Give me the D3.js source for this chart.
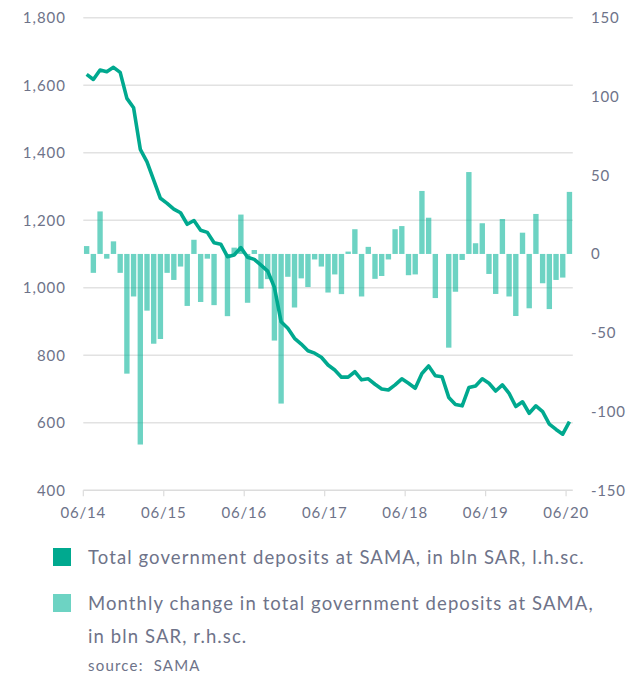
<!DOCTYPE html>
<html><head><meta charset="utf-8">
<script src="https://cdn.jsdelivr.net/npm/d3@7"></script>
<style>
html,body{margin:0;padding:0;background:#fff;}
svg text{font-family:Lato,"Open Sans",sans-serif;fill:#6e7389;white-space:pre;}
</style></head>
<body><svg id="c" width="643" height="676"></svg>
<script>
// ---- data ----
const totals = [1632,1617,1645,1640,1653,1638,1561,1533,1410,1373,1319,1265,1250,1233,1222,1188,1199,1170,1164,1133,1129,1092,1097,1119,1090,1084,1067,1049,1001,899,880,850,833,813,806,794,771,756,735,735,751,727,730,714,700,697,712,730,717,702,746,768,739,736,675,654,650,704,709,730,717,694,712,687,648,662,628,650,633,596,580,566,603];
const changes = [5,-12,27,-3,8,-12,-76,-27,-121,-36,-57,-54,-12,-16.5,-8,-33,9,-30.5,-3,-32.5,0,-39.5,4,25,-31,2.5,-22,-16,-55,-95,-14.5,-34,-15.5,-21,-3.5,-8,-24.5,-13,-25.5,1.5,15.7,-27,4.5,-15.8,-14,-3.5,15.7,17.7,-13.5,-13,40,23,-28,0,-59.5,-24,-3.8,52,6.8,19.5,-12.7,-25.4,22.2,-27,-39.4,13.5,-34.5,25.4,-18.6,-35,-16.5,-15,39.4];
const xTickLabels = ["06/14","06/15","06/16","06/17","06/18","06/19","06/20"];
const leftTicks = [400,600,800,1000,1200,1400,1600,1800];
const rightTicks = [-150,-100,-50,0,50,100,150];
const legendLabels = ["Total government deposits at SAMA, in bln SAR, l.h.sc.",
  "Monthly change in total government deposits at SAMA,", "in bln SAR, r.h.sc."];
const sourceText = "source:  SAMA";

// categories: months 06/14 .. 06/20
const months = d3.range(totals.length).map(i => d3.timeFormat("%m/%y")(new Date(2014, 5 + i, 1)));

const svg = d3.select("#c");
const L = 83.3, R = 572.8, T = 17.7, B = 490.2;

const x = d3.scaleBand().domain(months).range([L, R]).paddingInner(0.2).paddingOuter(0.1);
const yL = d3.scaleLinear().domain([400, 1800]).range([B, T]);
const yR = d3.scaleLinear().domain([-150, 150]).range([B, T]);
const step = x.step();
const tickX = m => x(m) - step * 0.1;

// grid
svg.append("g").selectAll("line").data(leftTicks.filter(v => v > 400)).join("line")
  .attr("x1", L).attr("x2", R).attr("y1", d => yL(d)).attr("y2", d => yL(d))
  .attr("stroke", "#e2e2e2").attr("stroke-width", 1.5);

// x axis
const xa = svg.append("g");
xa.append("line").attr("x1", L).attr("x2", R).attr("y1", B).attr("y2", B)
  .attr("stroke", "#dcdcdc").attr("stroke-width", 1.5);
xa.selectAll("line.t").data(xTickLabels).join("line").attr("class", "t")
  .attr("x1", d => tickX(d)).attr("x2", d => tickX(d)).attr("y1", B).attr("y2", B + 6)
  .attr("stroke", "#dcdcdc").attr("stroke-width", 1.2);
xa.selectAll("text").data(xTickLabels).join("text")
  .attr("x", d => tickX(d)).attr("y", 518).attr("text-anchor", "middle")
  .attr("font-size", 15).attr("letter-spacing", 0.8).text(d => d);

// left axis labels
svg.append("g").selectAll("text").data(leftTicks).join("text")
  .attr("x", 66).attr("y", d => yL(d) + 5.5).attr("text-anchor", "end")
  .attr("font-size", 15).attr("letter-spacing", 1).text(d => d3.format(",")(d));
// right axis labels
svg.append("g").selectAll("text").data(rightTicks).join("text")
  .attr("x", 591).attr("y", d => yR(d) + 5.5).attr("text-anchor", "start")
  .attr("font-size", 15).attr("letter-spacing", 0.8).text(d => d);

// bars
svg.append("g").selectAll("rect").data(changes).join("rect")
  .attr("x", (d, i) => x(months[i])).attr("width", x.bandwidth())
  .attr("y", d => yR(Math.max(0, d))).attr("height", d => Math.abs(yR(d) - yR(0)))
  .attr("fill", "rgb(12,182,155)").attr("fill-opacity", 0.6);

// line
const line = d3.line().x((d, i) => x(months[i]) + x.bandwidth() / 2).y(d => yL(d)).curve(d3.curveLinear);
svg.append("path").datum(totals).attr("d", line).attr("fill", "none")
  .attr("stroke", "#00a98f").attr("stroke-width", 3.6).attr("stroke-linejoin", "round");

// legend
const lg = svg.append("g");
lg.append("rect").attr("x", 53).attr("y", 548).attr("width", 18).attr("height", 18).attr("fill", "#00a98f");
lg.append("rect").attr("x", 53).attr("y", 594).attr("width", 18).attr("height", 18).attr("fill", "#6dd3c3");
lg.append("text").attr("x", 88).attr("y", 564).attr("font-size", 18.5).attr("letter-spacing", 1.1).text(legendLabels[0]);
lg.append("text").attr("x", 88).attr("y", 610).attr("font-size", 18.5).attr("letter-spacing", 1.1).text(legendLabels[1]);
lg.append("text").attr("x", 88).attr("y", 643).attr("font-size", 18.5).attr("letter-spacing", 1.1).text(legendLabels[2]);
lg.append("text").attr("x", 88).attr("y", 671).attr("font-size", 15).attr("letter-spacing", 1.2).text(sourceText);
</script></body></html>
